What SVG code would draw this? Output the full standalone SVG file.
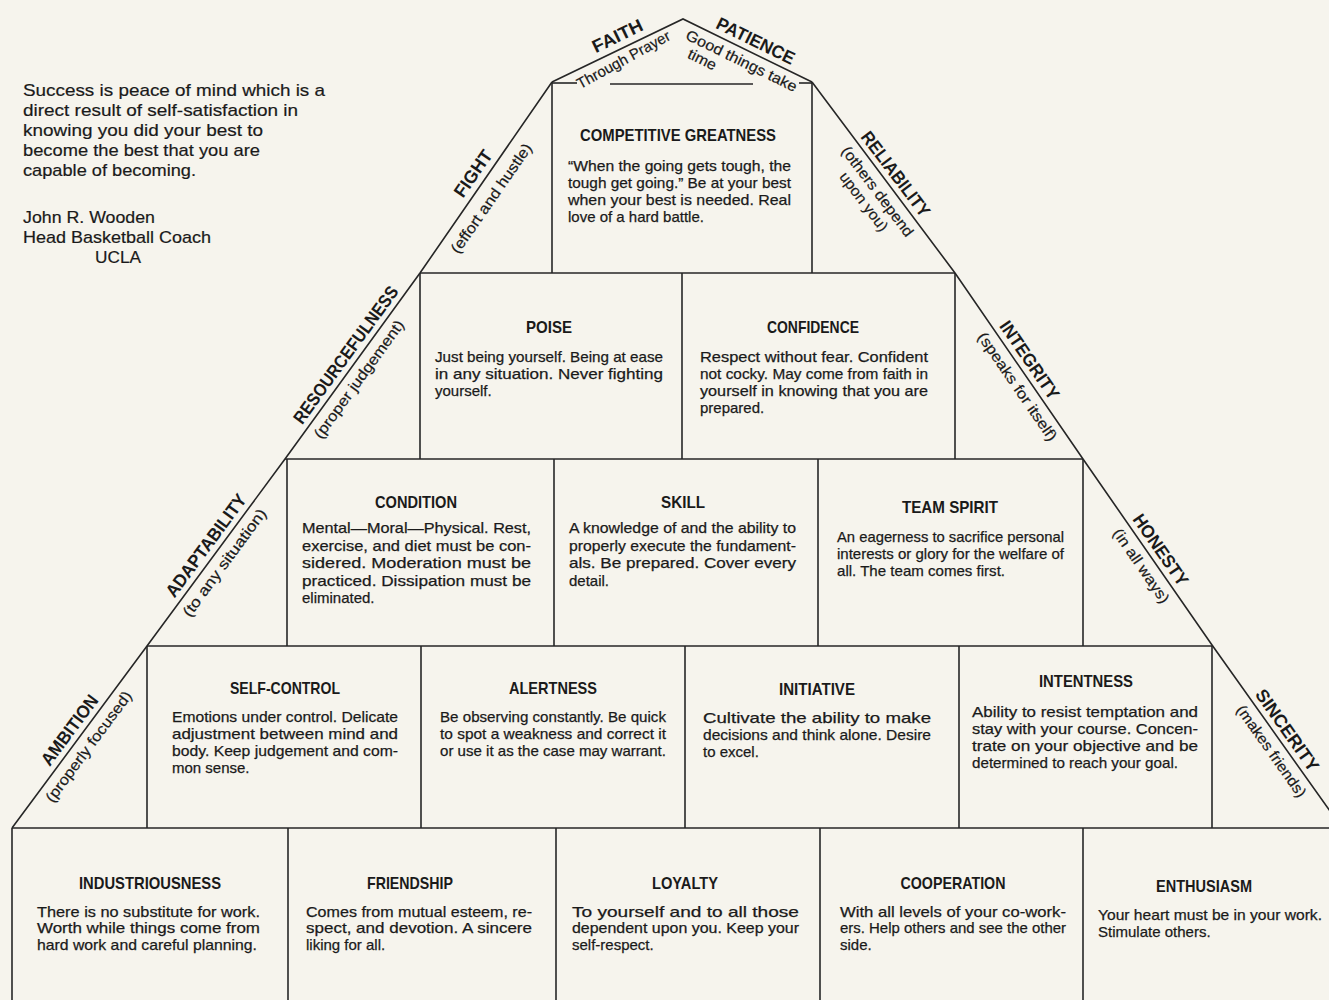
<svg xmlns="http://www.w3.org/2000/svg" width="1329" height="1000" viewBox="0 0 1329 1000">
<style>
.ln{stroke:#262626;stroke-width:1.6;fill:none;stroke-linejoin:miter}
text{font-family:"Liberation Sans Narrow","Liberation Sans",Arial,sans-serif;fill:#1a1a1a}
.ti{font-weight:bold;font-size:17px;text-anchor:middle}
.bd{font-size:15px;stroke:#1a1a1a;stroke-width:0.25}
.q{font-size:17px;stroke:#1a1a1a;stroke-width:0.2}
.sd{font-weight:bold;font-size:18px;text-anchor:middle}
.sb{font-size:15px;text-anchor:middle;stroke:#1a1a1a;stroke-width:0.2}
</style>
<rect width="1329" height="1000" fill="#f6f4ed"/>
<g id="frame" class="ln">
<polyline points="552,82 683,19 812,82"/>
<polyline points="552,82 420,273 285,459 147,646 12,828"/>
<polyline points="812,82 955,273 1083,459 1212,645 1342,828"/>
<line x1="552" y1="83" x2="577" y2="83"/>
<line x1="610" y1="84" x2="753" y2="84"/>
<line x1="799" y1="83" x2="812" y2="83"/>
<line x1="552" y1="82" x2="552" y2="273"/>
<line x1="812" y1="82" x2="812" y2="273"/>
<line x1="420" y1="273" x2="955" y2="273"/>
<line x1="420" y1="273" x2="420" y2="459"/>
<line x1="682" y1="273" x2="682" y2="459"/>
<line x1="955" y1="273" x2="955" y2="459"/>
<line x1="285" y1="459" x2="1083" y2="459"/>
<line x1="287" y1="459" x2="287" y2="646"/>
<line x1="554" y1="459" x2="554" y2="646"/>
<line x1="818" y1="459" x2="818" y2="646"/>
<line x1="1083" y1="459" x2="1083" y2="646"/>
<line x1="147" y1="646" x2="1212" y2="646"/>
<line x1="147" y1="646" x2="147" y2="828"/>
<line x1="421" y1="646" x2="421" y2="828"/>
<line x1="685" y1="646" x2="685" y2="828"/>
<line x1="959" y1="646" x2="959" y2="828"/>
<line x1="1212" y1="646" x2="1212" y2="828"/>
<line x1="12" y1="828" x2="1329" y2="828"/>
<line x1="12" y1="828" x2="12" y2="1000"/>
<line x1="288" y1="828" x2="288" y2="1000"/>
<line x1="556" y1="828" x2="556" y2="1000"/>
<line x1="820" y1="828" x2="820" y2="1000"/>
<line x1="1083" y1="828" x2="1083" y2="1000"/>
</g>
<g id="quote">
<text class="q" x="23" y="96" textLength="302" lengthAdjust="spacingAndGlyphs">Success is peace of mind which is a</text>
<text class="q" x="23" y="116" textLength="275" lengthAdjust="spacingAndGlyphs">direct result of self-satisfaction in</text>
<text class="q" x="23" y="136" textLength="240" lengthAdjust="spacingAndGlyphs">knowing you did your best to</text>
<text class="q" x="23" y="156" textLength="237" lengthAdjust="spacingAndGlyphs">become the best that you are</text>
<text class="q" x="23" y="176" textLength="173" lengthAdjust="spacingAndGlyphs">capable of becoming.</text>
<text class="q" x="23" y="223" textLength="132" lengthAdjust="spacingAndGlyphs">John R. Wooden</text>
<text class="q" x="23" y="243" textLength="188" lengthAdjust="spacingAndGlyphs">Head Basketball Coach</text>
<text class="q" x="95" y="263" textLength="46" lengthAdjust="spacingAndGlyphs">UCLA</text>
</g>
<g id="faith" transform="translate(552,82) rotate(-25.7)">
<text class="sd" x="79" y="-7" textLength="54" lengthAdjust="spacingAndGlyphs">FAITH</text>
<text class="sb" x="74" y="16" textLength="104" lengthAdjust="spacingAndGlyphs" transform="rotate(-3 74 10)">Through Prayer</text>
</g>
<g id="patience" transform="translate(683,19) rotate(26)">
<text class="sd" x="75" y="-6" textLength="85" lengthAdjust="spacingAndGlyphs">PATIENCE</text>
<text class="sb" x="71" y="17" textLength="122" lengthAdjust="spacingAndGlyphs">Good things take</text>
<text class="sb" x="35" y="33" textLength="30" lengthAdjust="spacingAndGlyphs">time</text>
</g>
<g id="fight" transform="translate(420,273) rotate(-55.2)">
<text class="sd" x="112" y="-7" textLength="53" lengthAdjust="spacingAndGlyphs">FIGHT</text>
<text class="sb" x="102" y="21" textLength="130" lengthAdjust="spacingAndGlyphs">(effort and hustle)</text>
</g>
<g id="resourcefulness" transform="translate(285,459) rotate(-54)">
<text class="sd" x="120" y="-6" textLength="165" lengthAdjust="spacingAndGlyphs">RESOURCEFULNESS</text>
<text class="sb" x="108" y="18" textLength="142" lengthAdjust="spacingAndGlyphs">(proper judgement)</text>
</g>
<g id="adaptability" transform="translate(147,646) rotate(-53.6)">
<text class="sd" x="116" y="-6" textLength="123" lengthAdjust="spacingAndGlyphs">ADAPTABILITY</text>
<text class="sb" x="113" y="18" textLength="130" lengthAdjust="spacingAndGlyphs">(to any situation)</text>
</g>
<g id="ambition" transform="translate(12,828) rotate(-53.4)">
<text class="sd" x="113" y="-6" textLength="83" lengthAdjust="spacingAndGlyphs">AMBITION</text>
<text class="sb" x="111" y="18" textLength="134" lengthAdjust="spacingAndGlyphs">(properly focused)</text>
</g>
<g id="reliability" transform="translate(812,83) rotate(53)">
<text class="sd" x="123" y="-6" textLength="102" lengthAdjust="spacingAndGlyphs">RELIABILITY</text>
<text class="sb" x="126" y="18" textLength="109" lengthAdjust="spacingAndGlyphs">(others depend</text>
<text class="sb" x="126" y="35" textLength="70" lengthAdjust="spacingAndGlyphs">upon you)</text>
</g>
<g id="integrity" transform="translate(955,273) rotate(55.5)">
<text class="sd" x="114" y="-6" textLength="91" lengthAdjust="spacingAndGlyphs">INTEGRITY</text>
<text class="sb" x="129" y="18" textLength="128" lengthAdjust="spacingAndGlyphs">(speaks for itself)</text>
</g>
<g id="honesty" transform="translate(1083,459) rotate(55.3)">
<text class="sd" x="119" y="-6" textLength="83" lengthAdjust="spacingAndGlyphs">HONESTY</text>
<text class="sb" x="121" y="18" textLength="87" lengthAdjust="spacingAndGlyphs">(in all ways)</text>
</g>
<g id="sincerity" transform="translate(1212,645) rotate(54.7)">
<text class="sd" x="113" y="-6" textLength="96" lengthAdjust="spacingAndGlyphs">SINCERITY</text>
<text class="sb" x="121" y="18" textLength="109" lengthAdjust="spacingAndGlyphs">(makes friends)</text>
</g>
<g id="competitive-greatness">
<text class="ti" x="678" y="141" textLength="196" lengthAdjust="spacingAndGlyphs">COMPETITIVE GREATNESS</text>
<text class="bd" x="568" y="171" textLength="223" lengthAdjust="spacingAndGlyphs">“When the going gets tough, the</text>
<text class="bd" x="568" y="188" textLength="223" lengthAdjust="spacingAndGlyphs">tough get going.” Be at your best</text>
<text class="bd" x="568" y="205" textLength="223" lengthAdjust="spacingAndGlyphs">when your best is needed. Real</text>
<text class="bd" x="568" y="222">love of a hard battle.</text>
</g>
<g id="poise">
<text class="ti" x="549" y="333" textLength="46" lengthAdjust="spacingAndGlyphs">POISE</text>
<text class="bd" x="435" y="362" textLength="228" lengthAdjust="spacingAndGlyphs">Just being yourself. Being at ease</text>
<text class="bd" x="435" y="379" textLength="228" lengthAdjust="spacingAndGlyphs">in any situation. Never fighting</text>
<text class="bd" x="435" y="396">yourself.</text>
</g>
<g id="confidence">
<text class="ti" x="813" y="333" textLength="92" lengthAdjust="spacingAndGlyphs">CONFIDENCE</text>
<text class="bd" x="700" y="362" textLength="228" lengthAdjust="spacingAndGlyphs">Respect without fear. Confident</text>
<text class="bd" x="700" y="379" textLength="228" lengthAdjust="spacingAndGlyphs">not cocky. May come from faith in</text>
<text class="bd" x="700" y="396" textLength="228" lengthAdjust="spacingAndGlyphs">yourself in knowing that you are</text>
<text class="bd" x="700" y="413">prepared.</text>
</g>
<g id="condition">
<text class="ti" x="416" y="508" textLength="82" lengthAdjust="spacingAndGlyphs">CONDITION</text>
<text class="bd" x="302" y="533" textLength="229" lengthAdjust="spacingAndGlyphs">Mental—Moral—Physical.    Rest,</text>
<text class="bd" x="302" y="550.5" textLength="229" lengthAdjust="spacingAndGlyphs">exercise, and diet must be con-</text>
<text class="bd" x="302" y="568" textLength="229" lengthAdjust="spacingAndGlyphs">sidered. Moderation must be</text>
<text class="bd" x="302" y="585.5" textLength="229" lengthAdjust="spacingAndGlyphs">practiced. Dissipation must be</text>
<text class="bd" x="302" y="603">eliminated.</text>
</g>
<g id="skill">
<text class="ti" x="683" y="508" textLength="44" lengthAdjust="spacingAndGlyphs">SKILL</text>
<text class="bd" x="569" y="533" textLength="227" lengthAdjust="spacingAndGlyphs">A knowledge of and the ability to</text>
<text class="bd" x="569" y="550.5" textLength="227" lengthAdjust="spacingAndGlyphs">properly execute the fundament-</text>
<text class="bd" x="569" y="568" textLength="227" lengthAdjust="spacingAndGlyphs">als. Be prepared. Cover every</text>
<text class="bd" x="569" y="585.5">detail.</text>
</g>
<g id="team-spirit">
<text class="ti" x="950" y="513" textLength="96" lengthAdjust="spacingAndGlyphs">TEAM SPIRIT</text>
<text class="bd" x="837" y="542" textLength="227" lengthAdjust="spacingAndGlyphs">An eagerness to sacrifice personal</text>
<text class="bd" x="837" y="559" textLength="227" lengthAdjust="spacingAndGlyphs">interests or glory for the welfare of</text>
<text class="bd" x="837" y="576" textLength="168" lengthAdjust="spacingAndGlyphs">all. The team comes first.</text>
</g>
<g id="self-control">
<text class="ti" x="285" y="694" textLength="110" lengthAdjust="spacingAndGlyphs">SELF-CONTROL</text>
<text class="bd" x="172" y="722" textLength="226" lengthAdjust="spacingAndGlyphs">Emotions under control. Delicate</text>
<text class="bd" x="172" y="739" textLength="226" lengthAdjust="spacingAndGlyphs">adjustment between mind and</text>
<text class="bd" x="172" y="756" textLength="226" lengthAdjust="spacingAndGlyphs">body. Keep judgement and com-</text>
<text class="bd" x="172" y="773">mon sense.</text>
</g>
<g id="alertness">
<text class="ti" x="553" y="694" textLength="88" lengthAdjust="spacingAndGlyphs">ALERTNESS</text>
<text class="bd" x="440" y="722" textLength="226" lengthAdjust="spacingAndGlyphs">Be observing constantly. Be quick</text>
<text class="bd" x="440" y="739" textLength="226" lengthAdjust="spacingAndGlyphs">to spot a weakness and correct it</text>
<text class="bd" x="440" y="756" textLength="226" lengthAdjust="spacingAndGlyphs">or use it as the case may warrant.</text>
</g>
<g id="initiative">
<text class="ti" x="817" y="695" textLength="76" lengthAdjust="spacingAndGlyphs">INITIATIVE</text>
<text class="bd" x="703" y="723" textLength="228" lengthAdjust="spacingAndGlyphs">Cultivate the ability to make</text>
<text class="bd" x="703" y="740" textLength="228" lengthAdjust="spacingAndGlyphs">decisions and think alone. Desire</text>
<text class="bd" x="703" y="757">to excel.</text>
</g>
<g id="intentness">
<text class="ti" x="1086" y="687" textLength="94" lengthAdjust="spacingAndGlyphs">INTENTNESS</text>
<text class="bd" x="972" y="717" textLength="226" lengthAdjust="spacingAndGlyphs">Ability to resist temptation and</text>
<text class="bd" x="972" y="734" textLength="226" lengthAdjust="spacingAndGlyphs">stay with your course. Concen-</text>
<text class="bd" x="972" y="751" textLength="226" lengthAdjust="spacingAndGlyphs">trate on your objective and be</text>
<text class="bd" x="972" y="768" textLength="206" lengthAdjust="spacingAndGlyphs">determined to reach your goal.</text>
</g>
<g id="industriousness">
<text class="ti" x="150" y="889" textLength="142" lengthAdjust="spacingAndGlyphs">INDUSTRIOUSNESS</text>
<text class="bd" x="37" y="917" textLength="223" lengthAdjust="spacingAndGlyphs">There is no substitute for work.</text>
<text class="bd" x="37" y="933" textLength="223" lengthAdjust="spacingAndGlyphs">Worth while things come from</text>
<text class="bd" x="37" y="950" textLength="220" lengthAdjust="spacingAndGlyphs">hard work and careful planning.</text>
</g>
<g id="friendship">
<text class="ti" x="410" y="889" textLength="86" lengthAdjust="spacingAndGlyphs">FRIENDSHIP</text>
<text class="bd" x="306" y="917" textLength="226" lengthAdjust="spacingAndGlyphs">Comes from mutual esteem, re-</text>
<text class="bd" x="306" y="933" textLength="226" lengthAdjust="spacingAndGlyphs">spect, and devotion. A sincere</text>
<text class="bd" x="306" y="950">liking for all.</text>
</g>
<g id="loyalty">
<text class="ti" x="685" y="889" textLength="66" lengthAdjust="spacingAndGlyphs">LOYALTY</text>
<text class="bd" x="572" y="917" textLength="227" lengthAdjust="spacingAndGlyphs">To yourself and to all those</text>
<text class="bd" x="572" y="933" textLength="227" lengthAdjust="spacingAndGlyphs">dependent upon you. Keep your</text>
<text class="bd" x="572" y="950">self-respect.</text>
</g>
<g id="cooperation">
<text class="ti" x="953" y="889" textLength="105" lengthAdjust="spacingAndGlyphs">COOPERATION</text>
<text class="bd" x="840" y="917" textLength="226" lengthAdjust="spacingAndGlyphs">With all levels of your co-work-</text>
<text class="bd" x="840" y="933" textLength="226" lengthAdjust="spacingAndGlyphs">ers. Help others and see the other</text>
<text class="bd" x="840" y="950">side.</text>
</g>
<g id="enthusiasm">
<text class="ti" x="1204" y="892" textLength="96" lengthAdjust="spacingAndGlyphs">ENTHUSIASM</text>
<text class="bd" x="1098" y="920" textLength="224" lengthAdjust="spacingAndGlyphs">Your heart must be in your work.</text>
<text class="bd" x="1098" y="937">Stimulate others.</text>
</g>
</svg>
